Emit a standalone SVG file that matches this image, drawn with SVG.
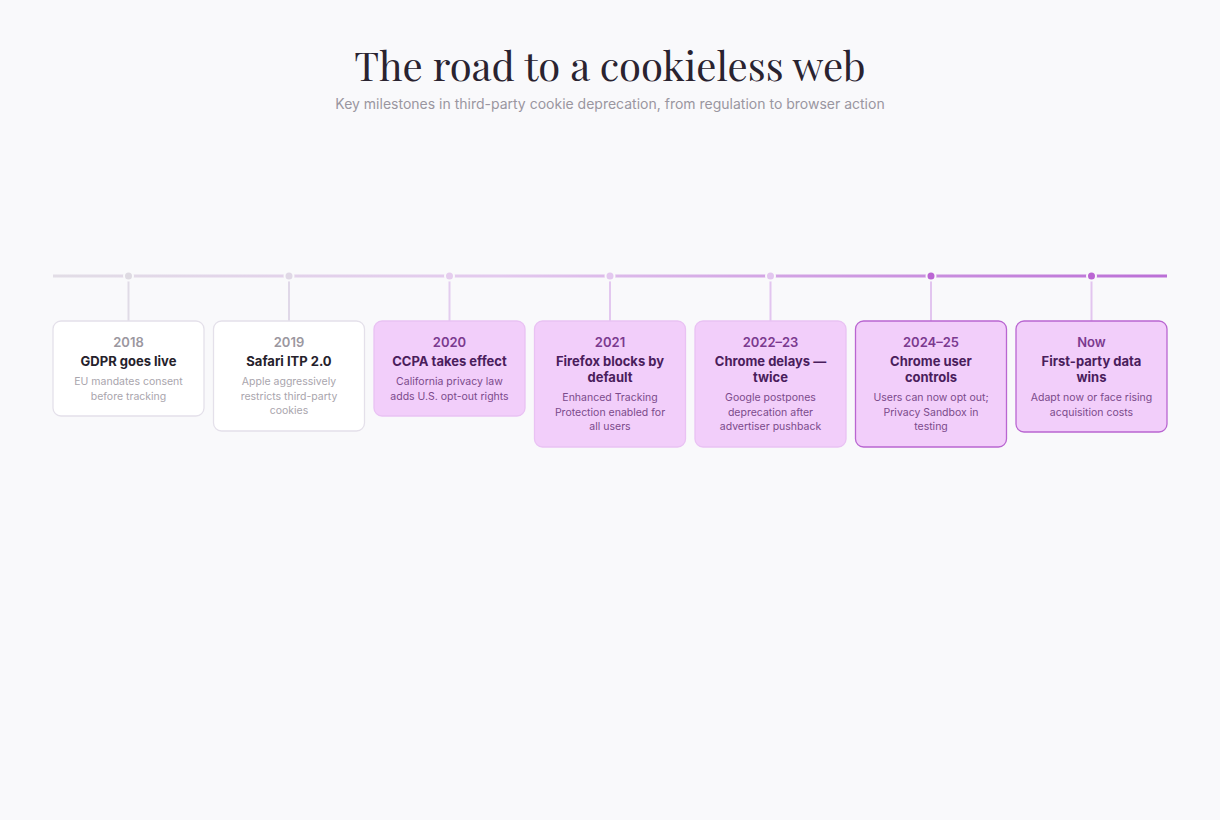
<svg xmlns="http://www.w3.org/2000/svg" width="1220" height="820" viewBox="0 0 1220 820">
<defs>
<linearGradient id="tl" x1="53" y1="0" x2="1167" y2="0" gradientUnits="userSpaceOnUse">
<stop offset="0" stop-color="#e2dde6"/><stop offset="0.4" stop-color="#e3c9ee"/><stop offset="1" stop-color="#bb6fd6"/>
</linearGradient>
</defs>
<style>
text{font-family:Inter,"Liberation Sans",sans-serif;text-anchor:middle}
.yr{font-size:13px;font-weight:600}
.tt{font-size:13px;font-weight:700}
.ds{font-size:10.5px}
.w rect{fill:#fff;stroke:#e4e0ea;stroke-width:1.3}
.w .yr{fill:#9b97a0}.w .tt{fill:#25212b}.w .ds{fill:#a9a5ad}
.p rect{fill:#f2cefa;stroke:#e9c2f3;stroke-width:1.3}
.s rect{stroke:#b966d1}
.p .yr{fill:#7b3a8f}.p .tt{fill:#4a1d5c}.p .ds{fill:#7b4a8b}
</style>
<rect width="1220" height="820" fill="#f9f9fb"/>
<text x="610" y="81" style="font-family:'Playfair Display','DejaVu Serif','Liberation Serif',serif;font-size:40px" fill="#2a2330">The road to a cookieless web</text>
<text x="610" y="109" style="font-size:14px" fill="#9a96a0">Key milestones in third-party cookie deprecation, from regulation to browser action</text>
<g id="connectors" stroke-width="3">
<line x1="53" y1="276" x2="1167" y2="276" stroke="url(#tl)"/>
<g stroke-width="2">
<line x1="128.5" y1="281" x2="128.5" y2="321" stroke="#e0dbe6"/>
<line x1="289" y1="281" x2="289" y2="321" stroke="#e0d8e8"/>
<line x1="449.5" y1="281" x2="449.5" y2="321" stroke="#e3cdee"/>
<line x1="610" y1="281" x2="610" y2="321" stroke="#e3c8ef"/>
<line x1="770.5" y1="281" x2="770.5" y2="321" stroke="#e2c5ef"/>
<line x1="931" y1="281" x2="931" y2="321" stroke="#e2c5ef"/>
<line x1="1091.5" y1="281" x2="1091.5" y2="321" stroke="#e2c5ef"/>
</g>
<g stroke="#f9f9fb" stroke-width="2">
<circle cx="128.5" cy="276" r="4.5" fill="#dedae2"/>
<circle cx="289" cy="276" r="4.5" fill="#e0d8e6"/>
<circle cx="449.5" cy="276" r="4.5" fill="#e5cdee"/>
<circle cx="610" cy="276" r="4.5" fill="#e3c8ef"/>
<circle cx="770.5" cy="276" r="4.5" fill="#e2c6ef"/>
<circle cx="931" cy="276" r="4.5" fill="#bb66d3"/>
<circle cx="1091.5" cy="276" r="4.5" fill="#bb66d3"/>
</g>
</g>
<g id="n2018" class="w"><rect x="53" y="321" width="151" height="95" rx="8"/>
<text x="128.5" y="347" class="yr">2018</text><text x="128.5" y="366" class="tt">GDPR goes live</text>
<text x="128.5" y="385" class="ds">EU mandates consent</text><text x="128.5" y="400" class="ds">before tracking</text></g>
<g id="n2019" class="w"><rect x="213.5" y="321" width="151" height="110" rx="8"/>
<text x="289" y="347" class="yr">2019</text><text x="289" y="366" class="tt">Safari ITP 2.0</text>
<text x="289" y="385" class="ds">Apple aggressively</text><text x="289" y="400" class="ds">restricts third-party</text><text x="289" y="414" class="ds">cookies</text></g>
<g id="n2020" class="p"><rect x="374" y="321" width="151" height="95" rx="8"/>
<text x="449.5" y="347" class="yr">2020</text><text x="449.5" y="366" class="tt">CCPA takes effect</text>
<text x="449.5" y="385" class="ds">California privacy law</text><text x="449.5" y="400" class="ds">adds U.S. opt-out rights</text></g>
<g id="n2021" class="p"><rect x="534.5" y="321" width="151" height="126" rx="8"/>
<text x="610" y="347" class="yr">2021</text><text x="610" y="366" class="tt">Firefox blocks by</text><text x="610" y="382" class="tt">default</text>
<text x="610" y="401" class="ds">Enhanced Tracking</text><text x="610" y="416" class="ds">Protection enabled for</text><text x="610" y="430" class="ds">all users</text></g>
<g id="n2022" class="p"><rect x="695" y="321" width="151" height="126" rx="8"/>
<text x="770.5" y="347" class="yr">2022–23</text><text x="770.5" y="366" class="tt">Chrome delays —</text><text x="770.5" y="382" class="tt">twice</text>
<text x="770.5" y="401" class="ds">Google postpones</text><text x="770.5" y="416" class="ds">deprecation after</text><text x="770.5" y="430" class="ds">advertiser pushback</text></g>
<g id="n2024" class="p s"><rect x="855.5" y="321" width="151" height="126" rx="8"/>
<text x="931" y="347" class="yr">2024–25</text><text x="931" y="366" class="tt">Chrome user</text><text x="931" y="382" class="tt">controls</text>
<text x="931" y="401" class="ds">Users can now opt out;</text><text x="931" y="416" class="ds">Privacy Sandbox in</text><text x="931" y="430" class="ds">testing</text></g>
<g id="nnow" class="p s"><rect x="1016" y="321" width="151" height="111" rx="8"/>
<text x="1091.5" y="347" class="yr">Now</text><text x="1091.5" y="366" class="tt">First-party data</text><text x="1091.5" y="382" class="tt">wins</text>
<text x="1091.5" y="401" class="ds">Adapt now or face rising</text><text x="1091.5" y="416" class="ds">acquisition costs</text></g>
</svg>
